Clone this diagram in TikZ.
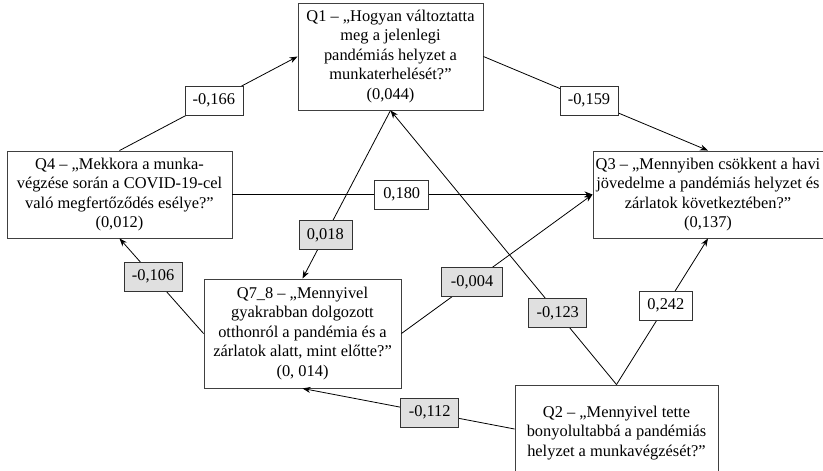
\documentclass[tikz,border=0pt]{standalone}
\usepackage{fontspec}
\setmainfont{Liberation Serif}
\usetikzlibrary{arrows.meta}

\begin{document}
\begin{tikzpicture}[x=1pt,y=-1pt,
		qbox/.style={draw=black!75, line width=0.9pt, align=center, inner sep=2pt, font=\fontsize{16.4}{19.5}\selectfont},
		coef/.style={draw=black!80, line width=0.7pt, fill=white, inner sep=0pt, minimum width=58pt, minimum height=29pt, font=\fontsize{16.4}{19}\selectfont},
		negcoef/.style={coef, fill=black!12},
		link/.style={line width=0.8pt, -{Stealth[length=8pt,width=6pt]}}]
		\clip (0,0) rectangle (823,471) ;
		% Top and middle row
		\node[qbox, minimum width=185pt, minimum height=107pt] (Q1) at (390.5,56.5) {Q1 – „Hogyan változtatta\\meg a jelenlegi\\pandémiás helyzet a\\munkaterhelését?”\\(0,044)} ;
		\node[qbox, minimum width=225pt, minimum height=87pt] (Q4) at (119.5,194.5) {Q4 – „Mekkora a munka-\\végzése során a COVID-19-cel\\való megfertőződés esélye?”\\(0,012)} ;
		\node[qbox, minimum width=230pt, minimum height=87pt] (Q3) at (708,194.5) {Q3 – „Mennyiben csökkent a havi\\jövedelme a pandémiás helyzet és\\zárlatok következtében?”\\(0,137)} ;
		% Bottom row
		\node[qbox, minimum width=197pt, minimum height=109pt] (Q78) at (302.5,333.5) {Q7\_8 – „Mennyivel\\gyakrabban dolgozott\\otthonról a pandémia és a\\zárlatok alatt, mint előtte?”\\(0, 014)} ;
		\node[qbox, minimum width=203pt, minimum height=96pt] (Q2) at (616.5,433) {Q2 – „Mennyivel tette\\bonyolultabbá a pandémiás\\helyzet a munkavégzését?”} ;
		% Paths
		\draw[link] (Q4.north) -- node[coef, pos=0.53] {-0,166} (Q1.west) ;
		\draw[link] (Q1.east) -- node[coef, pos=0.47] {-0,159} (Q3.north) ;
		\draw[link] (Q4.east) -- node[coef, pos=0.47, minimum width=54pt] {0,180} (Q3.west) ;
		\draw[link] (Q1.south) -- node[negcoef, pos=0.74, minimum width=53pt] {0,018} (Q78.north) ;
		\draw[link] (Q2.north) -- node[negcoef, pos=0.26] {-0,123} (Q1.south) ;
		\draw[link] (Q2.north) -- node[coef, pos=0.54, minimum width=53pt] {0,242} (Q3.south) ;
		\draw[link] (Q78.east) -- node[negcoef, pos=0.37, minimum width=61pt] {-0,004} (Q3.west) ;
		\draw[link] (Q78.west) -- node[negcoef, pos=0.6] {-0,106} (Q4.south) ;
		\draw[link] ([yshift=4pt]Q2.west) -- node[negcoef, pos=0.4] {-0,112} (Q78.south) ;
	\end{tikzpicture}
\end{document}
